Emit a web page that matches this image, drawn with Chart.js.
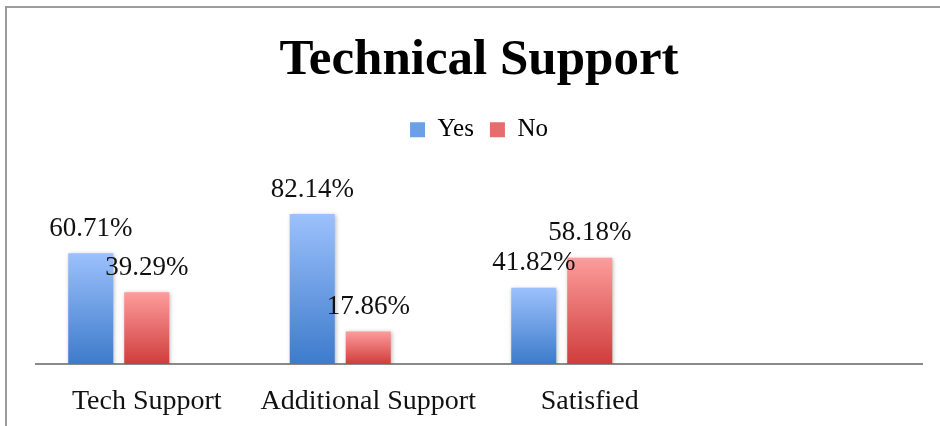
<!DOCTYPE html>
<html>
<head>
<meta charset="utf-8">
<title>Technical Support</title>
<script src="https://cdn.jsdelivr.net/npm/chart.js@4"></script>
<style>
  html, body { margin: 0; padding: 0; background: #fff; }
  #wrap { position: relative; width: 940px; height: 426px; }
  #frame {
    position: absolute; left: 5px; top: 6px; right: 0; bottom: 0;
    border-top: 2px solid #9c9c9c; border-left: 2px solid #9c9c9c;
  }
  #chart { position: absolute; left: 0; top: 0; }
</style>
</head>
<body>
<div id="wrap">
  <div id="frame"></div>
  <canvas id="chart" width="940" height="426"></canvas>
</div>
<script>
(function() {

  // chart data
  var categories = ['Tech Support', 'Additional Support', 'Satisfied', ''];
  var yesValues = [60.71, 82.14, 41.82];
  var noValues = [39.29, 17.86, 58.18];
  // third, empty series: keeps a free slot right of each pair
  var blankValues = [null, null, null];

  var serif = "'Liberation Serif', 'Times New Roman', serif";

  // top/bottom colours of each series gradient
  var palette = {
    yes: { top: '#9cc1fc', bottom: '#3d7bcb', flat: '#6b9fe6' },
    no: { top: '#fd9d9c', bottom: '#cf3d3c', flat: '#e56d6b' }
  };

  function barFill(colors) {
    return function(ctx) {
      var chart = ctx.chart;
      if (!chart.chartArea || !ctx.parsed) return colors.flat;
      var y = chart.scales.y;
      var top = y.getPixelForValue(ctx.parsed.y);
      var base = y.getPixelForValue(0);
      var g = chart.ctx.createLinearGradient(0, top, 0, base);
      g.addColorStop(0, colors.top);
      g.addColorStop(1, colors.bottom);
      return g;
    };
  }

  // soft shadow behind the bars
  var barShadow = {
    id: 'barShadow',
    beforeDatasetsDraw: function(chart) {
      var c = chart.ctx;
      c.save();
      c.shadowColor = 'rgba(0,0,0,0.28)';
      c.shadowBlur = 4;
      c.shadowOffsetX = 1;
      c.shadowOffsetY = 1;
    },
    afterDatasetsDraw: function(chart) {
      chart.ctx.restore();
    }
  };

  // percentage above each bar
  var valueLabels = {
    id: 'valueLabels',
    afterDatasetsDraw: function(chart) {
      var c = chart.ctx;
      c.save();
      c.font = '27px ' + serif;
      c.fillStyle = '#111';
      c.textAlign = 'center';
      c.textBaseline = 'bottom';
      chart.data.datasets.forEach(function(ds, i) {
        chart.getDatasetMeta(i).data.forEach(function(bar, j) {
          if (ds.data[j] == null) return;
          c.fillText(ds.data[j].toFixed(2) + '%', bar.x, bar.y - 11);
        });
      });
      c.restore();
    }
  };

  new Chart(document.getElementById('chart'), {
    type: 'bar',
    data: {
      labels: categories,
      datasets: [{
        label: 'Yes',
        data: yesValues,
        backgroundColor: barFill(palette.yes)
      }, {
        label: 'No',
        data: noValues,
        backgroundColor: barFill(palette.no)
      }, {
        label: '',
        data: blankValues,
        backgroundColor: 'rgba(0,0,0,0)'
      }]
    },
    options: {
      responsive: false,
      animation: false,
      categoryPercentage: 0.7585,
      barPercentage: 0.804,
      layout: {
        padding: { left: 36, right: 18, top: 0, bottom: -14 }
      },
      plugins: {
        title: {
          display: true,
          text: 'Technical Support',
          color: '#000',
          font: { family: serif, size: 51, weight: 'bold' },
          padding: { top: 30, bottom: 10 }
        },
        legend: {
          display: true,
          labels: {
            color: '#111',
            font: { family: serif, size: 25 },
            boxWidth: 15,
            boxHeight: 15,
            padding: 16,
            filter: function(item) { return item.text !== ''; },
            generateLabels: function(chart) {
              return chart.data.datasets.map(function(ds, i) {
                var col = i === 0 ? palette.yes.flat : palette.no.flat;
                return {
                  text: ds.label,
                  fillStyle: col,
                  strokeStyle: col,
                  lineWidth: 0,
                  datasetIndex: i
                };
              });
            }
          }
        },
        tooltip: { enabled: false }
      },
      scales: {
        x: {
          grid: { display: false, drawTicks: false },
          border: { display: true, color: '#8a8a8a', width: 2 },
          ticks: {
            color: '#111',
            font: { family: serif, size: 28, lineHeight: 1 },
            padding: 24,
            maxRotation: 0,
            minRotation: 0,
            autoSkip: false
          }
        },
        y: {
          display: false,
          min: 0,
          max: 116
        }
      }
    },
    plugins: [barShadow, valueLabels]
  });

})();
</script>
</body>
</html>
